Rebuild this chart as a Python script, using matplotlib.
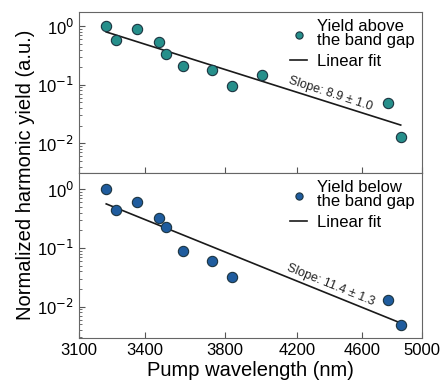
import numpy as np
import matplotlib
matplotlib.use("Agg")
import matplotlib.pyplot as plt
from matplotlib.ticker import FixedLocator, FixedFormatter, NullFormatter, NullLocator

plt.rcParams['font.family'] = ['Liberation Sans', 'DejaVu Sans']

# data
wl_above = [3220, 3264, 3361, 3467, 3501, 3583, 3731, 3839, 3999, 4771, 4854]
yield_above = [1.0, 0.58, 0.89, 0.54, 0.336, 0.21, 0.179, 0.095, 0.147, 0.048, 0.013]

wl_below = [3220, 3264, 3361, 3467, 3501, 3583, 3731, 3839, 4771, 4854]
yield_below = [1.0, 0.44, 0.615, 0.33, 0.23, 0.088, 0.060, 0.032, 0.0129, 0.0049]

slope_text = ['Slope: 8.9 \u00b1 1.0', 'Slope: 11.4 \u00b1 1.3']
labels = ['Yield above\nthe band gap', 'Yield below\nthe band gap']
colors = ['#268f8b', '#1f5c9e']
xticks = [3100, 3400, 3800, 4200, 4600, 5000]

fig = plt.figure(figsize=(4.4, 3.87), dpi=100)
ax1 = fig.add_axes([0.1795, 0.553, 0.7795, 0.416])
ax2 = fig.add_axes([0.1795, 0.1266, 0.7795, 0.4264])

sets = [(ax1, wl_above, yield_above), (ax2, wl_below, yield_below)]
for i, (ax, wl, yv) in enumerate(sets):
    wl = np.array(wl)
    yv = np.array(yv)
    p = np.polyfit(np.log10(wl), np.log10(yv), 1)
    xf = np.array([wl.min(), wl.max()])
    ax.plot(xf, 10 ** np.polyval(p, np.log10(xf)), color='#1a1a1a', lw=1.2,
            label='Linear fit', zorder=2)
    ax.scatter(wl, yv, s=55, color=colors[i], edgecolor='#1c3440', lw=0.8,
               label=labels[i], zorder=3)
    ax.set_xscale('log')
    ax.set_yscale('log')
    ax.set_xlim(3100, 5000)
    ax.xaxis.set_major_locator(FixedLocator(xticks))
    ax.xaxis.set_minor_locator(NullLocator())
    ax.set_yticks([1, 0.1, 0.01])
    ax.set_yticklabels(['10$^{0}$', '10$^{-1}$', '10$^{-2}$'])
    ax.tick_params(which='both', direction='in', labelsize=12, color='#555555')
    ax.tick_params(which='major', length=4)
    ax.tick_params(which='minor', length=2)
    for s in ax.spines.values():
        s.set_color('#666666')
    h, l = ax.get_legend_handles_labels()
    leg = ax.legend(h[::-1], l[::-1], loc='upper right', frameon=False, fontsize=12,
                    handlelength=1.0, handletextpad=0.6, markerscale=0.7,
                    borderaxespad=0.05, labelspacing=0.35)
    for t in leg.get_texts():
        t.set_linespacing(0.85)

ax1.set_ylim(0.0031, 1.76)
ax2.set_ylim(0.0029, 1.9)
ax1.xaxis.set_major_formatter(NullFormatter())
ax2.xaxis.set_major_formatter(FixedFormatter([str(t) for t in xticks]))

ax1.text(0.732, 0.49, slope_text[0], transform=ax1.transAxes, rotation=-18,
         ha='center', va='center', fontsize=9, color='#222222')
ax2.text(0.735, 0.32, slope_text[1], transform=ax2.transAxes, rotation=-22,
         ha='center', va='center', fontsize=9, color='#222222')

fig.text(0.057, 0.548, 'Normalized harmonic yield (a.u.)', rotation=90,
         ha='center', va='center', fontsize=14.5)
ax2.set_xlabel('Pump wavelength (nm)', fontsize=14.5, labelpad=2)

fig.savefig('out.png', dpi=100)
